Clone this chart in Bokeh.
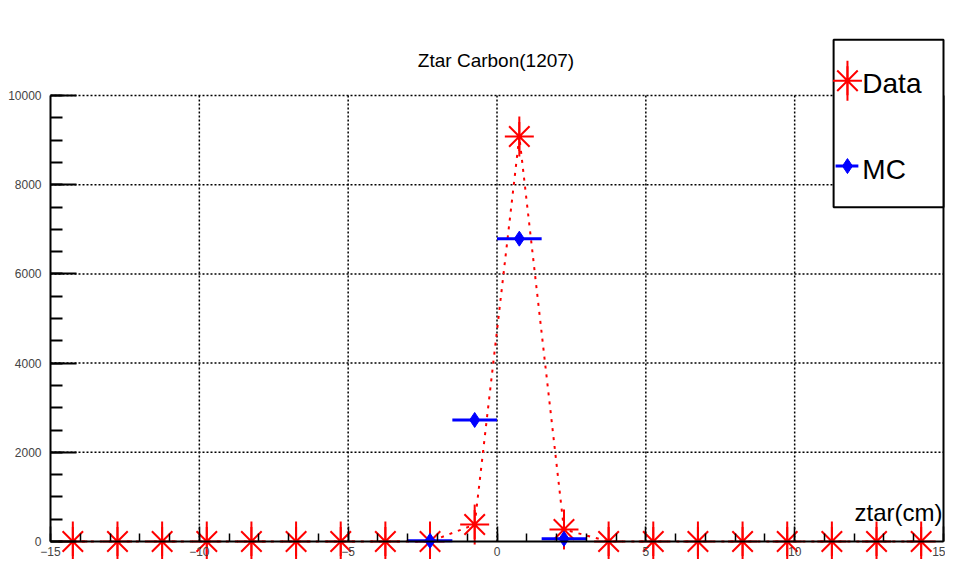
from bokeh.plotting import figure
from bokeh.models import Range1d, LinearAxis, FixedTicker, Grid
from bokeh.core.properties import value
from bokeh.embed import file_html
from bokeh.resources import INLINE
import numpy as np

# ---------------- data ----------------
bin_width = 1.5
data_x = [-14.25, -12.75, -11.25, -9.75, -8.25, -6.75, -5.25, -3.75, -2.25, -0.75,
          0.75, 2.25, 3.75, 5.25, 6.75, 8.25, 9.75, 11.25, 12.75, 14.25]
data_y = [0, 0, 0, 0, 0, 0, 0, 0, 0, 380,
          9080, 270, 0, 0, 0, 0, 0, 0, 0, 0]
mc_x = [-2.25, -0.75, 0.75, 2.25]
mc_y = [15, 2725, 6790, 60]

x_major = [-15, -10, -5, 0, 5, 10, 15]
x_minor = list(range(-15, 16))
y_major = [0, 2000, 4000, 6000, 8000, 10000]
y_minor = list(range(0, 10001, 500))
x_grid = [-10, -5, 0, 5, 10]
y_grid = [2000, 4000, 6000, 8000, 10000]

title_text = "Ztar Carbon(1207)"
x_title = "ztar(cm)"
legend_labels = ["Data", "MC"]

FONT = "Liberation Sans"

# ------------- layout -------------
W, H = 945, 559
# frame position on the canvas (px)
FL, FR, FT, FB = 50.0, 943.0, 95.0, 541.0
XMIN, XMAX = x_major[0], x_major[-1]
YMIN, YMAX = y_major[0], y_major[-1]
sx = (XMAX - XMIN) / (FR - FL)
sy = (YMAX - YMIN) / (FB - FT)

# reference-image pixel -> data (reference frame: x 50..952, y 550..95)
def X(px):
    return XMIN + (px - 50.0) * (XMAX - XMIN) / (952.0 - 50.0)

def Y(py):
    return YMIN + (550.0 - py) * (YMAX - YMIN) / (550.0 - 95.0)

p = figure(width=W, height=H, output_backend="svg", toolbar_location=None,
           x_range=Range1d(XMIN - FL * sx, XMAX + (W - FR) * sx),
           y_range=Range1d(YMIN - (H - FB) * sy, YMAX + FT * sy),
           x_axis_location=None, y_axis_location=None, min_border=0,
           outline_line_color=None, background_fill_color="white",
           border_fill_color="white")
p.center = [c for c in p.center if not isinstance(c, Grid)]

# grid lines
p.segment(x0=x_grid, x1=x_grid, y0=[YMIN] * len(x_grid), y1=[YMAX] * len(x_grid),
          line_color="black", line_width=1.5, line_dash="2 2")
p.segment(x0=[XMIN] * len(y_grid), x1=[XMAX] * len(y_grid), y0=y_grid, y1=y_grid,
          line_color="black", line_width=1.5, line_dash="2 2")
# right frame line
p.segment(x0=[XMAX], x1=[XMAX], y0=[YMIN], y1=[YMAX], line_color="black", line_width=2)

# data: dotted line + asterisks
p.line(data_x, data_y, line_color="red", line_width=2, line_dash="3 6")
p.scatter(data_x, data_y, marker="asterisk", size=29, line_color="red", line_width=2)
p.scatter(data_x, data_y, marker="dash", size=40, angle=np.pi / 2, line_color="red", line_width=2)

# MC: horizontal error bars + diamonds
mcx = np.array(mc_x)
p.segment(x0=mcx - bin_width / 2, x1=mcx + bin_width / 2, y0=mc_y, y1=mc_y,
          line_color="blue", line_width=3)
p.scatter(mc_x, mc_y, marker="diamond", size=15, fill_color="blue", line_color="blue")

# axes
xaxis = LinearAxis(fixed_location=0, bounds=(XMIN, XMAX),
                   ticker=FixedTicker(ticks=x_major, minor_ticks=x_minor),
                   axis_line_width=2, major_tick_in=15, major_tick_out=0,
                   minor_tick_in=8, minor_tick_out=0,
                   major_tick_line_width=1.5, minor_tick_line_width=1.5,
                   major_label_standoff=5, major_label_text_font=FONT,
                   major_label_text_font_size="12px", major_label_text_color="#444444")
yaxis = LinearAxis(fixed_location=XMIN, bounds=(YMIN, YMAX),
                   ticker=FixedTicker(ticks=y_major, minor_ticks=y_minor),
                   axis_line_width=2, major_tick_in=26, major_tick_out=0,
                   minor_tick_in=12, minor_tick_out=0,
                   major_tick_line_width=2, minor_tick_line_width=2,
                   major_label_standoff=9, major_label_text_font=FONT,
                   major_label_text_font_size="12px", major_label_text_color="#444444")
p.add_layout(xaxis, "below")
p.add_layout(yaxis, "left")

# title and axis title
p.text(x=[X(500)], y=[Y(59)], text=[title_text], text_font=value(FONT),
       text_font_size="19px", text_align="center", text_baseline="alphabetic",
       text_color="black")
p.text(x=[X(951)], y=[Y(520)], text=[x_title], text_font=value(FONT),
       text_font_size="24px", text_align="right", text_baseline="alphabetic",
       text_color="black")

# legend box
p.quad(left=[X(841)], right=[X(952)], top=[Y(38)], bottom=[Y(209)],
       fill_color="white", line_color="black", line_width=2)
p.scatter([X(855)], [Y(80)], marker="asterisk", size=29, line_color="red", line_width=2)
p.scatter([X(855)], [Y(80)], marker="dash", size=40, angle=np.pi / 2, line_color="red", line_width=2)
p.segment(x0=[X(843)], x1=[X(866)], y0=[Y(167)], y1=[Y(167)], line_color="blue", line_width=3)
p.scatter([X(855)], [Y(167)], marker="diamond", size=15, fill_color="blue", line_color="blue")
p.text(x=[X(870), X(870)], y=[Y(83), Y(170)], text=legend_labels, text_font=value(FONT),
       text_font_size="28px", text_align="left", text_baseline="alphabetic",
       text_color="black")

open("out.html", "w").write(file_html(p, INLINE))
